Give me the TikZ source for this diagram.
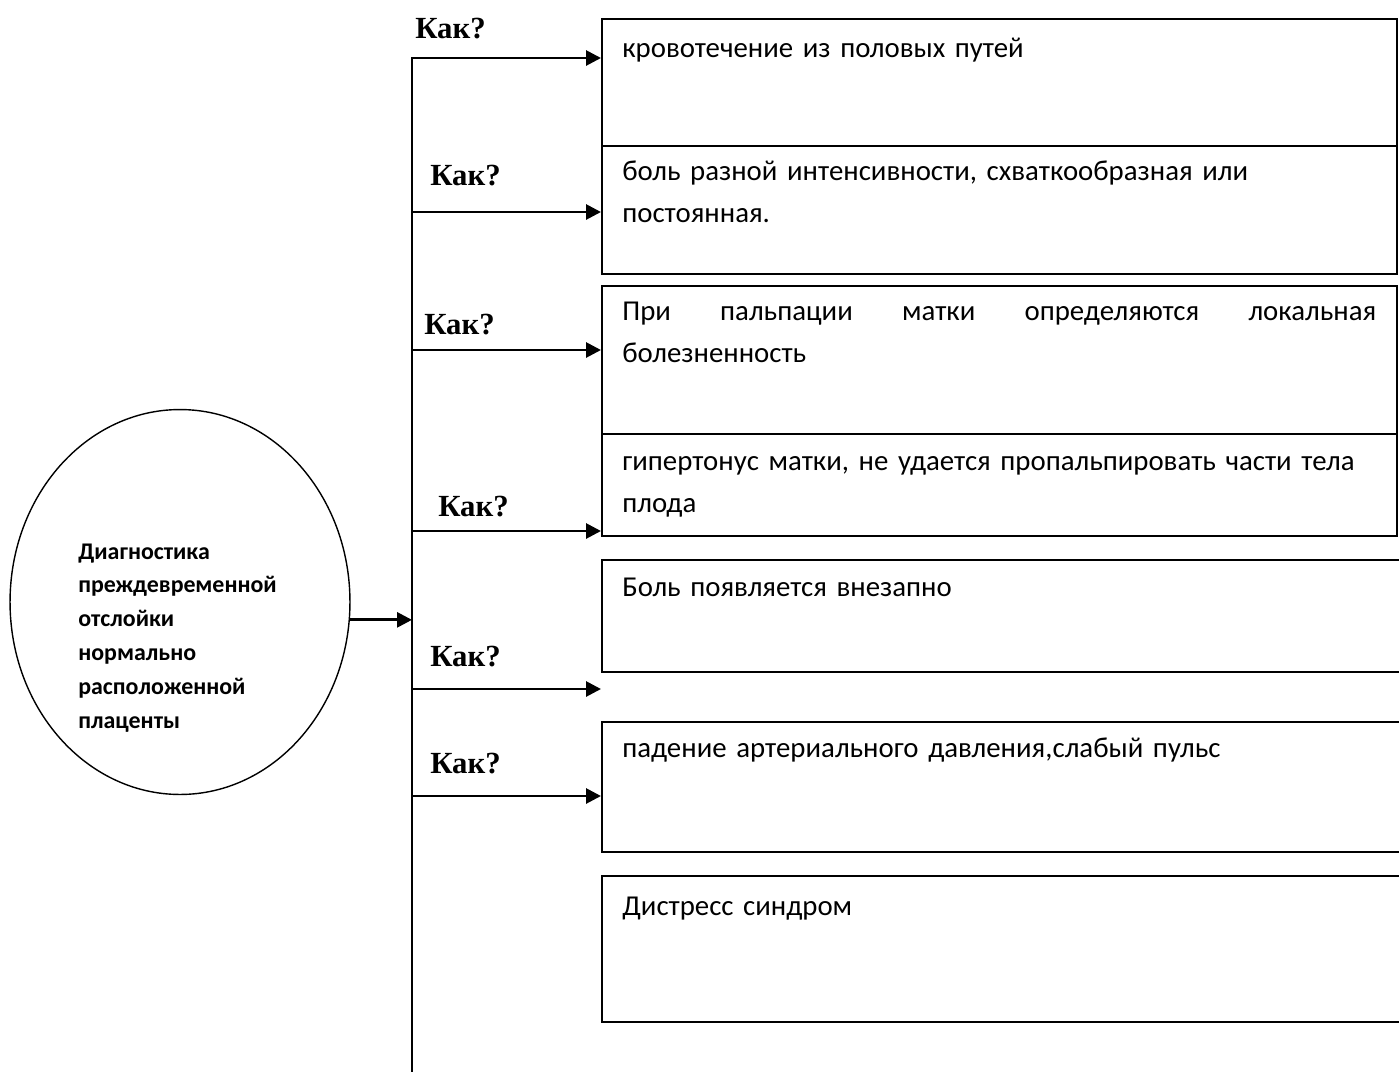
\documentclass[tikz,border=0pt]{standalone}
\usepackage{fontspec}
\setmainfont{Carlito}[WordSpace=0.8]
\newfontfamily\kakfont{Liberation Serif}
\usetikzlibrary{shapes.geometric,arrows.meta}
\tikzset{
  box/.style={draw=black,line width=1.2pt,anchor=north west,inner sep=0pt,minimum width=15.9cm},
  openbox/.style={box,minimum width=17cm},
  txt/.style={anchor=base west,inner sep=0pt,text width=15.08cm,align=left,font=\fontsize{16.4pt}{24.4pt}\selectfont},
  kak/.style={anchor=base west,inner sep=0pt,font=\kakfont\bfseries\fontsize{17.5pt}{20pt}\selectfont},
  arr/.style={line width=1.6pt,-{Triangle[length=8.5pt,width=8.5pt]}}
}
\begin{document}
\begin{tikzpicture}[x=0.02cm,y=-0.02cm]
\clip (0,0) rectangle (1399,1072);
% main oval
\node[shape=ellipse,draw=black,line width=0.8pt,minimum width=6.8cm,minimum height=7.7cm] (E) at (180,602) {};
\node[anchor=base west,inner sep=0pt,text width=5cm,align=left,font=\bfseries\fontsize{13.6pt}{19.3pt}\selectfont] (ET) at (78,559) {Диагностика\\преждевременной\\отслойки\\нормально\\расположенной\\плаценты};
% boxes
\node[box,minimum height=2.54cm] (B1) at (601,18) {};
\node[box,minimum height=2.56cm] (B2) at (601,145) {};
\node[box,minimum height=2.96cm] (B3) at (601,285) {};
\node[box,minimum height=2.04cm] (B4) at (601,433) {};
\node[openbox,minimum height=2.24cm] (B5) at (601,559) {};
\node[openbox,minimum height=2.6cm] (B6) at (601,721) {};
\node[openbox,minimum height=2.92cm] (B7) at (601,875) {};
\node[txt] (T1) at (622,57) {кровотечение из половых путей};
\node[txt] (T2) at (622,180) {боль разной интенсивности, схваткообразная или\\постоянная.};
\node[txt] (T3) at (622,320) {При\hfill пальпации\hfill матки\hfill определяются\hfill локальная\\болезненность};
\node[txt] (T4) at (622,470) {гипертонус матки, не удается пропальпировать части тела\\плода};
\node[txt] (T5) at (622,596) {Боль появляется внезапно};
\node[txt] (T6) at (622,757) {падение артериального давления,слабый пульс};
\node[txt] (T7) at (622,915) {Дистресс синдром};
% labels
\node[kak] (K1) at (415,38) {Как?};
\node[kak] (K2) at (430,185) {Как?};
\node[kak] (K3) at (424,334) {Как?};
\node[kak] (K4) at (438,516) {Как?};
\node[kak] (K5) at (430,666) {Как?};
\node[kak] (K6) at (430,773) {Как?};
% spine and arrows
\coordinate (top) at (412,57);
\coordinate (bot) at (412,1072);
\coordinate (S1) at (412,58);
\coordinate (S2) at (412,212);
\coordinate (S3) at (412,350);
\coordinate (S4) at (412,531);
\coordinate (S5) at (412,689);
\coordinate (S6) at (412,796);
\path [-,line width=1.2pt] (top) edge (bot);
\path [arr] (E.-6.7) edge (E.-6.7 -| top);
\path [arr] (S1) edge (S1 -| B1.west);
\path [arr] (S2) edge (S2 -| B2.west);
\path [arr] (S3) edge (S3 -| B3.west);
\path [arr] (S4) edge (S4 -| B4.west);
\path [arr] (S5) edge (S5 -| B5.west);
\path [arr] (S6) edge (S6 -| B6.west);
\end{tikzpicture}
\end{document}
